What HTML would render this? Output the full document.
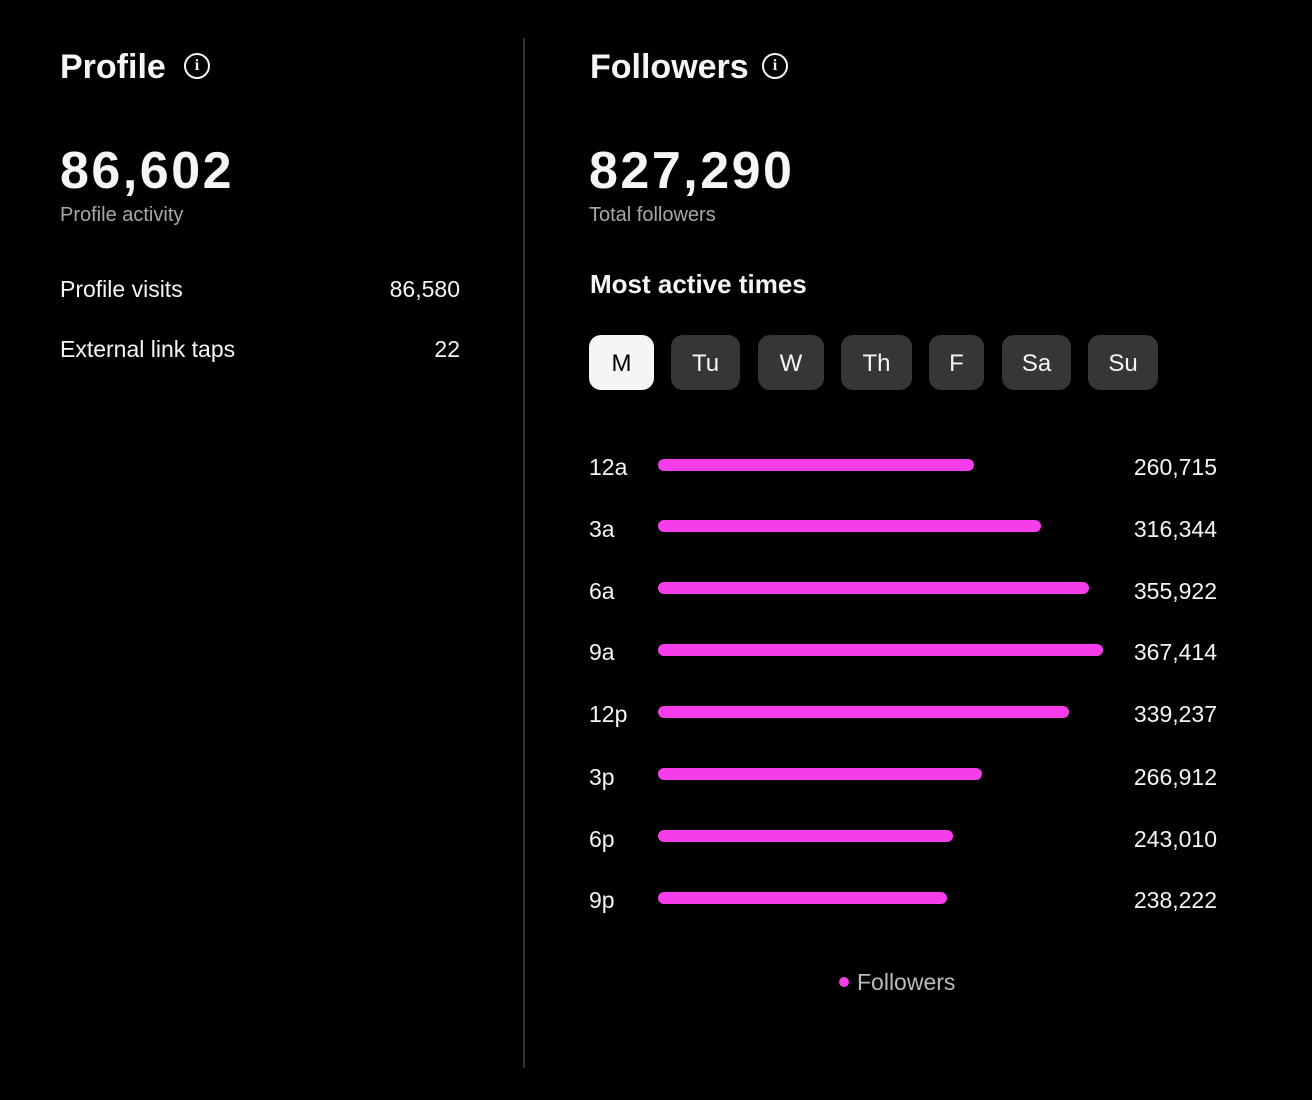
<!DOCTYPE html>
<html><head><meta charset="utf-8"><style>
body{margin:0;width:1312px;height:1100px;background:#000;font-family:"Liberation Sans",sans-serif;color:#f5f5f5;position:relative;overflow:hidden}
.a{position:absolute;white-space:nowrap}
.h{font-size:34px;font-weight:bold}
.big{font-size:52px;font-weight:bold;letter-spacing:2.5px}
.sub{font-size:20px;color:#a8a8a8}
.r{font-size:23px}
.info{position:absolute;width:22px;height:22px;border:2px solid #f5f5f5;border-radius:50%;font:bold 16px "Liberation Serif",serif;text-align:center;line-height:22px}
.btn{position:absolute;top:335px;height:55px;border-radius:12px;background:#363636;font-size:24px;text-align:center;line-height:58px}
.bar{position:absolute;left:658px;height:12px;border-radius:6px;background:#f53ee9}
.lab{position:absolute;left:589px;font-size:23px}
.val{position:absolute;right:95px;font-size:23px}
</style></head><body>
<div class="a h" style="left:60px;top:48px">Profile</div>
<div class="info" style="left:184px;top:53px">i</div>
<div class="a big" style="left:60px;top:141px">86,602</div>
<div class="a sub" style="left:60px;top:204px">Profile activity</div>
<div class="a r" style="left:60px;top:276px">Profile visits</div>
<div class="a r" style="right:852px;top:276px">86,580</div>
<div class="a r" style="left:60px;top:336px">External link taps</div>
<div class="a r" style="right:852px;top:336px">22</div>
<div class="a" style="left:523px;top:38px;width:2px;height:1030px;background:#333"></div>
<div class="a h" style="left:590px;top:48px">Followers</div>
<div class="info" style="left:762px;top:53px">i</div>
<div class="a big" style="left:589px;top:141px">827,290</div>
<div class="a sub" style="left:589px;top:204px">Total followers</div>
<div class="a" style="left:590px;top:269px;font-size:26px;font-weight:bold">Most active times</div>
<div class="btn" style="left:589px;width:65px;background:#f5f5f5;color:#000">M</div>
<div class="btn" style="left:671px;width:69px">Tu</div>
<div class="btn" style="left:758px;width:66px">W</div>
<div class="btn" style="left:841px;width:71px">Th</div>
<div class="btn" style="left:929px;width:55px">F</div>
<div class="btn" style="left:1002px;width:69px">Sa</div>
<div class="btn" style="left:1088px;width:70px">Su</div>

<div class="lab" style="top:454px">12a</div><div class="bar" style="top:459px;width:316px"></div><div class="val" style="top:454px">260,715</div>
<div class="lab" style="top:516px">3a</div><div class="bar" style="top:520px;width:383px"></div><div class="val" style="top:516px">316,344</div>
<div class="lab" style="top:578px">6a</div><div class="bar" style="top:582px;width:431px"></div><div class="val" style="top:578px">355,922</div>
<div class="lab" style="top:639px">9a</div><div class="bar" style="top:644px;width:445px"></div><div class="val" style="top:639px">367,414</div>
<div class="lab" style="top:701px">12p</div><div class="bar" style="top:706px;width:411px"></div><div class="val" style="top:701px">339,237</div>
<div class="lab" style="top:764px">3p</div><div class="bar" style="top:768px;width:324px"></div><div class="val" style="top:764px">266,912</div>
<div class="lab" style="top:826px">6p</div><div class="bar" style="top:830px;width:295px"></div><div class="val" style="top:826px">243,010</div>
<div class="lab" style="top:887px">9p</div><div class="bar" style="top:892px;width:289px"></div><div class="val" style="top:887px">238,222</div>

<div class="a" style="left:839px;top:977px;width:10px;height:10px;border-radius:50%;background:#f53ee9"></div>
<div class="a" style="left:857px;top:969px;font-size:23px;color:#bbb">Followers</div>
</body></html>
